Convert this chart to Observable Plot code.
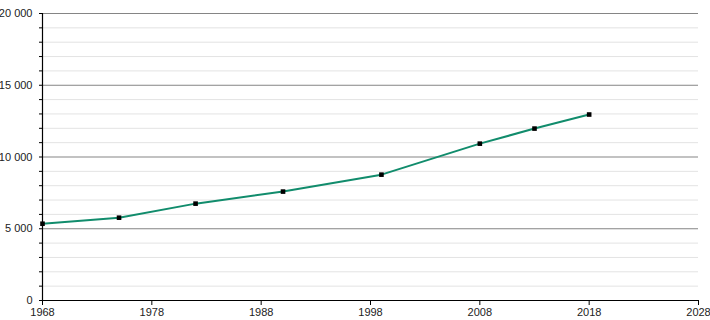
<!DOCTYPE html>
<html><head><meta charset="utf-8">
<script src="https://cdn.jsdelivr.net/npm/d3@7"></script>
<script src="https://cdn.jsdelivr.net/npm/@observablehq/plot@0.6"></script>
<style>body{margin:0;background:#fff}</style>
</head><body><div id="chart"></div>
<script>
const years = [1968, 1975, 1982, 1990, 1999, 2008, 2013, 2018];
const population = [5350, 5770, 6750, 7590, 8770, 10930, 11980, 12960];
const xTicks = [1968, 1978, 1988, 1998, 2008, 2018, 2028];
const yMajor = [0, 5000, 10000, 15000, 20000];
const yMinor = [1000, 2000, 3000, 4000, 6000, 7000, 8000, 9000, 11000, 12000, 13000, 14000, 16000, 17000, 18000, 19000];

const data = years.map((y, i) => ({year: y, pop: population[i]}));
const fmt = d => d3.format(",")(d).replace(/,/g, " ");

const chart = Plot.plot({
  width: 710,
  height: 320,
  marginLeft: 42,
  marginRight: 12,
  marginTop: 13,
  marginBottom: 20,
  style: {fontFamily: "'Liberation Sans', Arial, sans-serif", fontSize: "11px", color: "#222", background: "#fff"},
  x: {domain: [1968, 2028], label: null},
  y: {domain: [0, 20000], label: null},
  marks: [
    Plot.ruleY(yMinor, {stroke: "#e3e3e3", strokeWidth: 1}),
    Plot.ruleY(yMajor.slice(1), {stroke: "#858585", strokeWidth: 1}),
    Plot.axisY({ticks: yMinor, tickSize: 3, tickFormat: () => "", label: null, stroke: "#000"}),
    Plot.axisY({ticks: yMajor, tickSize: 3, tickPadding: 7, tickFormat: fmt, label: null, stroke: "#000"}),
    Plot.axisX({ticks: xTicks, tickSize: 5, tickPadding: 3, tickFormat: d => String(d), label: null, stroke: "#000"}),
    Plot.ruleX([1968], {stroke: "#000", strokeWidth: 1.2}),
    Plot.ruleY([0], {stroke: "#000", strokeWidth: 1.2}),
    Plot.line(data, {x: "year", y: "pop", stroke: "#118c6c", strokeWidth: 2}),
    Plot.dot(data, {x: "year", y: "pop", symbol: "square", r: 2.6, fill: "#000", stroke: "none"})
  ]
});
document.getElementById("chart").appendChild(chart);
</script>
</body></html>
